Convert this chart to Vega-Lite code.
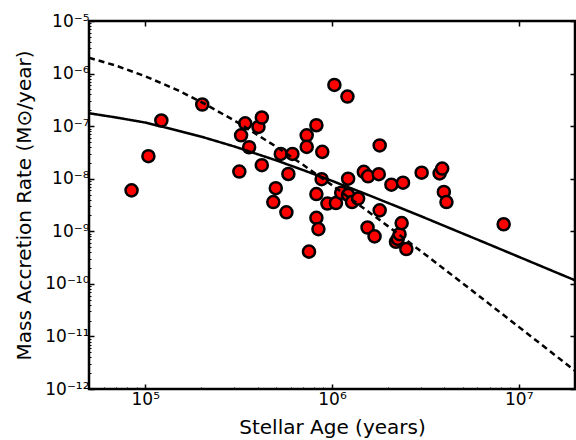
{
  "$schema": "https://vega.github.io/schema/vega-lite/v6.json",
  "width": 486,
  "height": 368,
  "autosize": "none",
  "padding": {"left": 89, "top": 21, "right": 1, "bottom": 51},
  "background": "white",
  "config": {
    "view": {"stroke": "black", "strokeWidth": 2.5},
    "axis": {
      "labelFont": "DejaVu Sans",
      "titleFont": "DejaVu Sans",
      "labelColor": "black",
      "titleColor": "black",
      "titleFontWeight": "normal",
      "labelFontSize": 17,
      "titleFontSize": 20,
      "grid": false,
      "domain": false,
      "tickColor": "black"
    }
  },
  "datasets": {
    "stars": [
      {"age": 84500, "rate": 6.0e-9},
      {"age": 104000, "rate": 2.68e-8},
      {"age": 122000, "rate": 1.28e-7},
      {"age": 202000, "rate": 2.58e-7},
      {"age": 319000, "rate": 1.37e-8},
      {"age": 326000, "rate": 6.7e-8},
      {"age": 343000, "rate": 1.13e-7},
      {"age": 360000, "rate": 3.97e-8},
      {"age": 404000, "rate": 9.66e-8},
      {"age": 421000, "rate": 1.46e-7},
      {"age": 421000, "rate": 1.81e-8},
      {"age": 485000, "rate": 3.6e-9},
      {"age": 500000, "rate": 6.6e-9},
      {"age": 532000, "rate": 2.96e-8},
      {"age": 570000, "rate": 2.3e-9},
      {"age": 584000, "rate": 1.23e-8},
      {"age": 614000, "rate": 2.96e-8},
      {"age": 732000, "rate": 6.7e-8},
      {"age": 732000, "rate": 4.03e-8},
      {"age": 753000, "rate": 4.1e-10},
      {"age": 825000, "rate": 1.04e-7},
      {"age": 825000, "rate": 5.1e-9},
      {"age": 825000, "rate": 1.8e-9},
      {"age": 846000, "rate": 1.1e-9},
      {"age": 880000, "rate": 9.8e-9},
      {"age": 887000, "rate": 3.24e-8},
      {"age": 945000, "rate": 3.37e-9},
      {"age": 1030000, "rate": 6.07e-7},
      {"age": 1050000, "rate": 3.45e-9},
      {"age": 1120000, "rate": 5.4e-9},
      {"age": 1210000, "rate": 3.66e-7},
      {"age": 1220000, "rate": 1.0e-8},
      {"age": 1220000, "rate": 4.9e-9},
      {"age": 1280000, "rate": 3.6e-9},
      {"age": 1380000, "rate": 4.2e-9},
      {"age": 1480000, "rate": 1.35e-8},
      {"age": 1550000, "rate": 1.18e-9},
      {"age": 1560000, "rate": 1.11e-8},
      {"age": 1690000, "rate": 8.0e-10},
      {"age": 1780000, "rate": 1.22e-8},
      {"age": 1800000, "rate": 4.3e-8},
      {"age": 1800000, "rate": 2.5e-9},
      {"age": 2080000, "rate": 7.7e-9},
      {"age": 2200000, "rate": 6.3e-10},
      {"age": 2250000, "rate": 7.2e-10},
      {"age": 2300000, "rate": 8.8e-10},
      {"age": 2360000, "rate": 1.43e-9},
      {"age": 2400000, "rate": 8.4e-9},
      {"age": 2500000, "rate": 4.6e-10},
      {"age": 3020000, "rate": 1.3e-8},
      {"age": 3770000, "rate": 1.26e-8},
      {"age": 3890000, "rate": 1.56e-8},
      {"age": 3970000, "rate": 5.6e-9},
      {"age": 4100000, "rate": 3.6e-9},
      {"age": 8300000, "rate": 1.36e-9}
    ],
    "models": [
      {"model": "viscous", "age": 50000, "rate": 1.76e-7},
      {"model": "viscous", "age": 70000, "rate": 1.46e-7},
      {"model": "viscous", "age": 100000, "rate": 1.17e-7},
      {"model": "viscous", "age": 150000, "rate": 8.2e-8},
      {"model": "viscous", "age": 200000, "rate": 6.3e-8},
      {"model": "viscous", "age": 300000, "rate": 4.1e-8},
      {"model": "viscous", "age": 500000, "rate": 2.25e-8},
      {"model": "viscous", "age": 700000, "rate": 1.46e-8},
      {"model": "viscous", "age": 1000000, "rate": 9.1e-9},
      {"model": "viscous", "age": 1500000, "rate": 5.2e-9},
      {"model": "viscous", "age": 2000000, "rate": 3.45e-9},
      {"model": "viscous", "age": 3000000, "rate": 1.93e-9},
      {"model": "viscous", "age": 5000000, "rate": 9.1e-10},
      {"model": "viscous", "age": 7000000, "rate": 5.55e-10},
      {"model": "viscous", "age": 10000000, "rate": 3.27e-10},
      {"model": "viscous", "age": 15000000, "rate": 1.79e-10},
      {"model": "viscous", "age": 20000000, "rate": 1.17e-10},
      {"model": "steep", "age": 50000, "rate": 2.0e-6},
      {"model": "steep", "age": 70000, "rate": 1.41e-6},
      {"model": "steep", "age": 100000, "rate": 8.9e-7},
      {"model": "steep", "age": 150000, "rate": 4.78e-7},
      {"model": "steep", "age": 200000, "rate": 2.87e-7},
      {"model": "steep", "age": 300000, "rate": 1.28e-7},
      {"model": "steep", "age": 500000, "rate": 4.12e-8},
      {"model": "steep", "age": 700000, "rate": 1.84e-8},
      {"model": "steep", "age": 1000000, "rate": 7.55e-9},
      {"model": "steep", "age": 1500000, "rate": 2.64e-9},
      {"model": "steep", "age": 2000000, "rate": 1.24e-9},
      {"model": "steep", "age": 3000000, "rate": 4.15e-10},
      {"model": "steep", "age": 5000000, "rate": 1.03e-10},
      {"model": "steep", "age": 7000000, "rate": 4.07e-11},
      {"model": "steep", "age": 10000000, "rate": 1.52e-11},
      {"model": "steep", "age": 15000000, "rate": 4.94e-12},
      {"model": "steep", "age": 20000000, "rate": 2.22e-12}
    ]
  },
  "resolve": {"axis": {"x": "independent", "y": "independent"}},
  "layer": [
    {
      "data": {"name": "stars"},
      "mark": {"type": "point", "shape": "circle", "filled": true, "fill": "#ff0000", "stroke": "black", "strokeWidth": 2.5, "opacity": 1, "size": 145},
      "encoding": {
        "x": {
          "field": "age", "type": "quantitative",
          "scale": {"type": "log", "domain": [50000, 20000000], "nice": false},
          "axis": {
            "orient": "bottom",
            "title": "Stellar Age (years)",
            "titlePadding": 10,
            "labelPadding": 7,
            "values": [50000, 60000, 70000, 80000, 90000, 100000, 200000, 300000, 400000, 500000, 600000, 700000, 800000, 900000, 1000000, 2000000, 3000000, 4000000, 5000000, 6000000, 7000000, 8000000, 9000000, 10000000, 20000000],
            "labelExpr": "abs(log(datum.value)/LN10 - round(log(datum.value)/LN10)) < 1e-6 ? ['10⁴','10⁵','10⁶','10⁷'][round(log(datum.value)/LN10) - 4] : ''",
            "tickSize": {"condition": {"test": "abs(log(datum.value)/LN10 - round(log(datum.value)/LN10)) < 1e-6", "value": -5}, "value": -2},
            "tickWidth": {"condition": {"test": "abs(log(datum.value)/LN10 - round(log(datum.value)/LN10)) < 1e-6", "value": 1.5}, "value": 1},
            "labelFlush": false
          }
        },
        "y": {
          "field": "rate", "type": "quantitative",
          "scale": {"type": "log", "domain": [1e-12, 1e-5], "nice": false},
          "axis": {
            "orient": "left",
            "title": "Mass Accretion Rate (M⊙/year)",
            "titlePadding": 10,
            "labelPadding": 5,
            "values": [1e-12, 2e-12, 3e-12, 4e-12, 5e-12, 6e-12, 7e-12, 8e-12, 9e-12, 1e-11, 2e-11, 3e-11, 4e-11, 5e-11, 6e-11, 7e-11, 8e-11, 9e-11, 1e-10, 2e-10, 3e-10, 4e-10, 5e-10, 6e-10, 7e-10, 8e-10, 9e-10, 1e-9, 2e-9, 3e-9, 4e-9, 5e-9, 6e-9, 7e-9, 8e-9, 9e-9, 1e-8, 2e-8, 3e-8, 4e-8, 5e-8, 6e-8, 7e-8, 8e-8, 9e-8, 1e-7, 2e-7, 3e-7, 4e-7, 5e-7, 6e-7, 7e-7, 8e-7, 9e-7, 1e-6, 2e-6, 3e-6, 4e-6, 5e-6, 6e-6, 7e-6, 8e-6, 9e-6, 1e-5],
            "labelExpr": "abs(log(datum.value)/LN10 - round(log(datum.value)/LN10)) < 1e-6 ? ['10⁻¹²','10⁻¹¹','10⁻¹⁰','10⁻⁹','10⁻⁸','10⁻⁷','10⁻⁶','10⁻⁵'][round(log(datum.value)/LN10) + 12] : ''",
            "tickSize": {"condition": {"test": "abs(log(datum.value)/LN10 - round(log(datum.value)/LN10)) < 1e-6", "value": -5}, "value": -2},
            "tickWidth": {"condition": {"test": "abs(log(datum.value)/LN10 - round(log(datum.value)/LN10)) < 1e-6", "value": 1.5}, "value": 1},
            "labelFlush": false
          }
        }
      }
    },
    {
      "data": {"name": "models"},
      "mark": {"type": "line", "color": "black", "strokeWidth": 2.5, "clip": true},
      "encoding": {
        "x": {
          "field": "age", "type": "quantitative",
          "scale": {"type": "log", "domain": [50000, 20000000], "nice": false},
          "axis": {
            "orient": "top", "title": null, "labels": false,
            "values": [100000, 1000000, 10000000],
            "tickSize": -5, "tickWidth": 1.5
          }
        },
        "y": {
          "field": "rate", "type": "quantitative",
          "scale": {"type": "log", "domain": [1e-12, 1e-5], "nice": false},
          "axis": {
            "orient": "right", "title": null, "labels": false,
            "values": [1e-12, 1e-11, 1e-10, 1e-9, 1e-8, 1e-7, 1e-6, 1e-5],
            "tickSize": -5, "tickWidth": 1.5
          }
        },
        "detail": {"field": "model", "type": "nominal"},
        "strokeDash": {
          "field": "model", "type": "nominal",
          "scale": {"domain": ["viscous", "steep"], "range": [[1, 0], [6, 4]]},
          "legend": null
        }
      }
    }
  ]
}
